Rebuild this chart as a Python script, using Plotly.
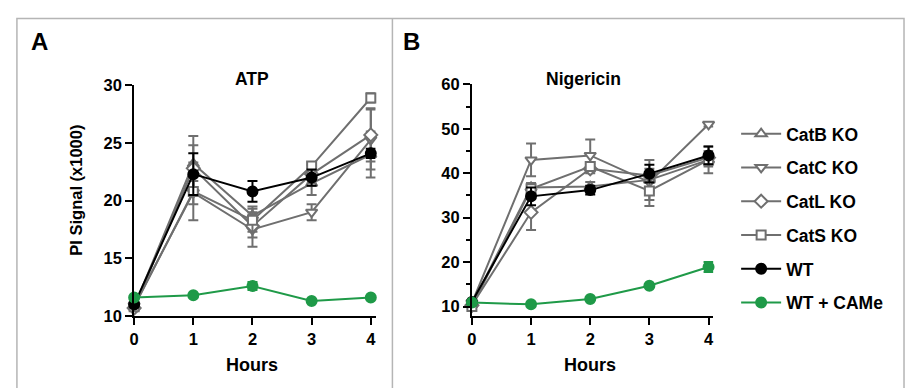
import plotly.graph_objects as go

W, H = 907, 388
hours = [0, 1, 2, 3, 4]
x_tick_labels = ["0", "1", "2", "3", "4"]
series_names = ["CatB KO", "CatC KO", "CatL KO", "CatS KO", "WT", "WT + CAMe"]

# Panel A: ATP (PI signal x1000)
atp_catb = [10.8, 23.2, 18.7, 21.5, 24.0]
atp_catc = [10.9, 20.7, 17.5, 19.0, 25.3]
atp_catl = [10.7, 22.8, 17.8, 22.3, 25.7]
atp_cats = [10.8, 20.8, 18.3, 23.0, 28.9]
atp_wt = [11.0, 22.3, 20.8, 22.0, 24.1]
atp_came = [11.6, 11.8, 12.6, 11.3, 11.6]
atp_catb_err = [0.2, 2.4, 0.8, 1.0, 2.0]
atp_catc_err = [0.2, 1.0, 1.5, 0.7, 2.6]
atp_catl_err = [0.2, 2.0, 1.0, 0.8, 2.3]
atp_cats_err = [0.2, 2.5, 1.0, 0.3, 0.4]
atp_wt_err = [0.2, 1.8, 0.9, 0.7, 0.4]
atp_came_err = [0.1, 0.1, 0.35, 0.1, 0.1]

# Panel B: Nigericin
nig_catb = [10.5, 36.8, 37.0, 38.5, 43.0]
nig_catc = [10.8, 43.0, 44.0, 38.0, 51.0]
nig_catl = [10.3, 31.2, 41.0, 39.5, 43.5]
nig_cats = [10.0, 36.5, 41.5, 36.0, 43.0]
nig_wt = [11.0, 34.8, 36.2, 39.9, 44.0]
nig_came = [10.9, 10.5, 11.7, 14.7, 18.9]
nig_catb_err = [0.3, 1.0, 1.0, 4.5, 1.5]
nig_catc_err = [0.3, 3.7, 3.6, 2.0, 0.5]
nig_catl_err = [0.3, 4.0, 1.0, 1.5, 1.5]
nig_cats_err = [0.3, 1.0, 1.0, 3.4, 3.0]
nig_wt_err = [0.3, 2.0, 1.0, 2.0, 2.0]
nig_came_err = [0.2, 0.2, 0.2, 0.3, 1.1]

atp_ticks = [10, 15, 20, 25, 30]
nig_ticks = [10, 20, 30, 40, 50, 60]

GRAY = "#6f6f6f"
BLACK = "#000000"
GREEN = "#1f9a48"
FONT = "Liberation Sans"

styles = [
    dict(color=GRAY, symbol="triangle-up", size=10, fill="white"),
    dict(color=GRAY, symbol="triangle-down", size=10, fill="white"),
    dict(color=GRAY, symbol="diamond", size=10, fill="white"),
    dict(color=GRAY, symbol="square", size=9, fill="white"),
    dict(color=BLACK, symbol="circle", size=10, fill=BLACK),
    dict(color=GREEN, symbol="circle", size=10, fill=GREEN),
]

def px(x):
    return x / W

def py(y):
    return 1 - y / H

fig = go.Figure()

panels = [
    ("x", "y", [atp_catb, atp_catc, atp_catl, atp_cats, atp_wt, atp_came],
     [atp_catb_err, atp_catc_err, atp_catl_err, atp_cats_err, atp_wt_err, atp_came_err], False),
    ("x2", "y2", [nig_catb, nig_catc, nig_catl, nig_cats, nig_wt, nig_came],
     [nig_catb_err, nig_catc_err, nig_catl_err, nig_cats_err, nig_wt_err, nig_came_err], True),
]

for xa, ya, vals, errs, show in panels:
    for name, v, e, st in zip(series_names, vals, errs, styles):
        fig.add_trace(go.Scatter(
            x=hours, y=v, name=name, xaxis=xa, yaxis=ya,
            mode="lines+markers", cliponaxis=False,
            line=dict(color=st["color"], width=2),
            marker=dict(symbol=st["symbol"], size=st["size"], color=st["fill"],
                        line=dict(color=st["color"], width=2)),
            error_y=dict(type="data", array=e, color=st["color"], thickness=2, width=5),
            showlegend=show, legendgroup=name,
        ))

axis_common = dict(
    showline=True, linecolor="black", linewidth=2, ticks="outside", ticklen=7, tickwidth=2,
    tickcolor="black", showgrid=False, zeroline=False,
    tickfont=dict(family=FONT, size=16.5, color="black", weight="bold"),
)

fig.update_layout(
    width=W, height=H, margin=dict(l=0, r=0, t=0, b=0),
    paper_bgcolor="white", plot_bgcolor="white",
    font=dict(family=FONT, color="black"),
    xaxis=dict(domain=[px(130), px(373)], range=[0, 4.08], tickvals=hours, ticktext=x_tick_labels,
               anchor="y", **axis_common),
    yaxis=dict(domain=[py(322), py(80)], range=[10, 30], tickvals=atp_ticks, anchor="x", **axis_common),
    xaxis2=dict(domain=[px(470), px(713)], range=[0, 4.08], tickvals=hours, ticktext=x_tick_labels,
                anchor="y2", **axis_common),
    yaxis2=dict(domain=[py(322), py(79)], range=[7.86, 60], tickvals=nig_ticks, anchor="x2",
                minor=dict(tickvals=[15, 25, 35, 45, 55], ticks="outside", ticklen=4, tickwidth=2, tickcolor="black"),
                **axis_common),
    legend=dict(x=px(736), y=py(112), xanchor="left", yanchor="top", xref="paper", yref="paper",
                font=dict(family=FONT, size=17.5, color="black", weight="bold"),
                tracegroupgap=8, bgcolor="rgba(0,0,0,0)", itemwidth=40),
)

bold = dict(family=FONT, color="black", weight="bold")
annots = [
    ("A", 35, 34, 24), ("B", 409, 34, 24),
    ("ATP", 249, 73, 17.5), ("Nigericin", 582, 73, 17.5),
    ("Hours", 249, 373, 18), ("Hours", 589, 373, 18),
]
for t, x, y, s in annots:
    fig.add_annotation(text=t, x=px(x), y=py(y), xref="paper", yref="paper", showarrow=False,
                       xanchor="center", yanchor="middle", font=dict(size=s, **bold))
fig.add_annotation(text="PI Signal (x1000)", x=px(72), y=py(190), xref="paper", yref="paper",
                   showarrow=False, textangle=-90, xanchor="center", yanchor="middle",
                   font=dict(size=16.5, **bold))

border = dict(color="#b5b5b5", width=1.5)
fig.add_shape(type="rect", x0=px(12), x1=px(905), y0=py(400), y1=py(10), xref="paper", yref="paper", line=border)
fig.add_shape(type="line", x0=px(390), x1=px(390), y0=py(400), y1=py(10), xref="paper", yref="paper", line=border)

fig.write_html("out.html", config={"displayModeBar": False},
               post_script="document.body.style.margin='0';document.body.style.overflow='hidden';")
